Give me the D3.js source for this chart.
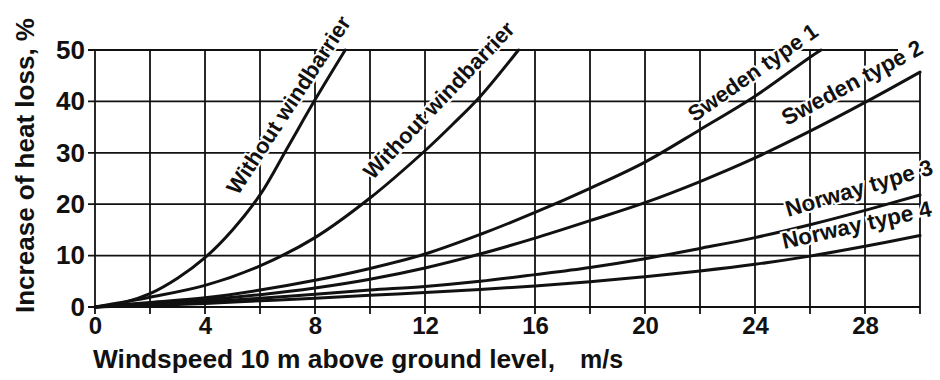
<!DOCTYPE html>
<html>
<head>
<meta charset="utf-8">
<script src="https://cdn.jsdelivr.net/npm/d3@7"></script>
<style>
  html, body { margin: 0; padding: 0; background: #fff; }
  svg { display: block; }
  text { font-family: "Liberation Sans", Arial, Helvetica, sans-serif; font-weight: bold; fill: #111; }
</style>
</head>
<body>
<svg id="chart" width="940" height="380"></svg>
<script>
// ---- data ----
const xTicks = [0, 4, 8, 12, 16, 20, 24, 28];
const yTicks = [0, 10, 20, 30, 40, 50];
const xGrid = [0, 2, 4, 6, 8, 10, 12, 14, 16, 18, 20, 22, 24, 26, 28, 30];

const seriesNames = ["Without windbarrier", "Without windbarrier", "Sweden type 1", "Sweden type 2", "Norway type 3", "Norway type 4"];

const noBarrierAX = [0, 1, 2, 3, 4, 5, 6, 7, 8, 9.1];
const noBarrierAY = [0, 0.8, 2.6, 5.6, 9.6, 15, 21.8, 31, 40.3, 50];

const noBarrierBX = [0, 2, 4, 6, 8, 10, 12, 13, 14, 15.4];
const noBarrierBY = [0, 1.9, 4.2, 8.0, 13.5, 21.2, 30.4, 35.5, 40.9, 50];

const sweden1X = [0, 2, 4, 6, 8, 10, 12, 14, 16, 18, 20, 22, 24, 26, 26.4];
const sweden1Y = [0, 0.9, 1.8, 3.3, 5.2, 7.5, 10.3, 14.1, 18.4, 23.1, 28.2, 34.5, 41, 48.6, 50];

const sweden2X = [0, 2, 4, 6, 8, 10, 12, 14, 16, 18, 20, 22, 24, 26, 28, 30];
const sweden2Y = [0, 0.7, 1.4, 2.4, 3.7, 5.4, 7.6, 10.3, 13.4, 16.8, 20.3, 24.4, 29.0, 34.2, 39.8, 45.7];

const norway3X = [0, 2, 4, 6, 8, 10, 12, 14, 16, 18, 20, 22, 24, 26, 28, 30];
const norway3Y = [0, 0.5, 1.0, 1.7, 2.5, 3.3, 4.0, 5.0, 6.3, 7.7, 9.4, 11.4, 13.5, 16.0, 18.8, 21.8];

const norway4X = [0, 2, 4, 6, 8, 10, 12, 14, 16, 18, 20, 22, 24, 26, 28, 30];
const norway4Y = [0, 0.3, 0.7, 1.2, 1.7, 2.3, 2.8, 3.4, 4.1, 4.9, 5.9, 7.0, 8.3, 9.9, 11.8, 13.9];

// label anchors (data units) and rotation
const labelX = [5.2, 10.1, 21.8, 25.15, 25.2, 25.05];
const labelY = [21.6, 24.6, 35.9, 35.2, 17.5, 11.3];
const labelAngle = [-56.8, -46.4, -35, -28, -16.4, -12.5];
const labelSize = [22, 22, 22, 22.5, 22.5, 22.5];

// ---- chart ----
const svg = d3.select("#chart");
const x = d3.scaleLinear().domain([0, 30]).range([95, 920]);
const y = d3.scaleLinear().domain([0, 50]).range([307, 50]);

const seriesX = [noBarrierAX, noBarrierBX, sweden1X, sweden2X, norway3X, norway4X];
const seriesY = [noBarrierAY, noBarrierBY, sweden1Y, sweden2Y, norway3Y, norway4Y];
const series = seriesX.map((xs, i) => xs.map((v, j) => [v, seriesY[i][j]]));

const grid = svg.append("g").attr("stroke", "#111").attr("stroke-width", 1.8).attr("fill", "none");

// horizontal grid lines (with small ticks to the left)
grid.selectAll("line.h").data(yTicks).join("line")
  .attr("x1", x(0) - 7)
  .attr("x2", d => d === 50 ? x(29.2) : x(30))
  .attr("y1", d => y(d)).attr("y2", d => y(d));

// vertical grid lines (with small ticks below)
grid.selectAll("line.v").data(xGrid).join("line")
  .attr("x1", d => x(d)).attr("x2", d => x(d))
  .attr("y1", y(0) + 7)
  .attr("y2", d => d === 30 ? y(sweden2Y[sweden2Y.length - 1]) : y(50));

// axes labels via d3 axes
const xAxis = svg.append("g").attr("transform", `translate(0,${y(0)})`)
  .call(d3.axisBottom(x).tickValues(xTicks).tickSize(0).tickPadding(10).tickFormat(d3.format("d")));
xAxis.select(".domain").remove();
xAxis.selectAll("text").attr("font-size", 24).attr("fill", "#111")
  .style("font-family", '"Liberation Sans", Arial, sans-serif').style("font-weight", "bold");

const yAxis = svg.append("g").attr("transform", `translate(${x(0)},0)`)
  .call(d3.axisLeft(y).tickValues(yTicks).tickSize(0).tickPadding(10).tickFormat(d3.format("d")));
yAxis.select(".domain").remove();
yAxis.selectAll("text").attr("font-size", 26).attr("fill", "#111")
  .style("font-family", '"Liberation Sans", Arial, sans-serif').style("font-weight", "bold");

// curves
const line = d3.line().x(d => x(d[0])).y(d => y(d[1])).curve(d3.curveCatmullRom.alpha(0.5));
svg.append("g").selectAll("path").data(series).join("path")
  .attr("d", line)
  .attr("fill", "none")
  .attr("stroke", "#111")
  .attr("stroke-width", 3)
  .attr("stroke-linecap", "round");

// curve labels
svg.append("g").selectAll("text").data(seriesNames).join("text")
  .attr("transform", (d, i) => `translate(${x(labelX[i])},${y(labelY[i])}) rotate(${labelAngle[i]})`)
  .attr("font-size", (d, i) => labelSize[i])
  .attr("stroke", "#fff").attr("stroke-width", 4).attr("paint-order", "stroke")
  .text(d => d);

// axis titles
svg.append("text")
  .attr("x", 93).attr("y", 368)
  .attr("font-size", 25)
  .attr("textLength", 462).attr("lengthAdjust", "spacingAndGlyphs")
  .text("Windspeed 10 m above ground level,");
svg.append("text")
  .attr("x", 580).attr("y", 368)
  .attr("font-size", 25)
  .text("m/s");

svg.append("text")
  .attr("transform", "translate(34,313) rotate(-90)")
  .attr("font-size", 25)
  .attr("textLength", 295).attr("lengthAdjust", "spacingAndGlyphs")
  .text("Increase of heat loss, %");
</script>
</body>
</html>
